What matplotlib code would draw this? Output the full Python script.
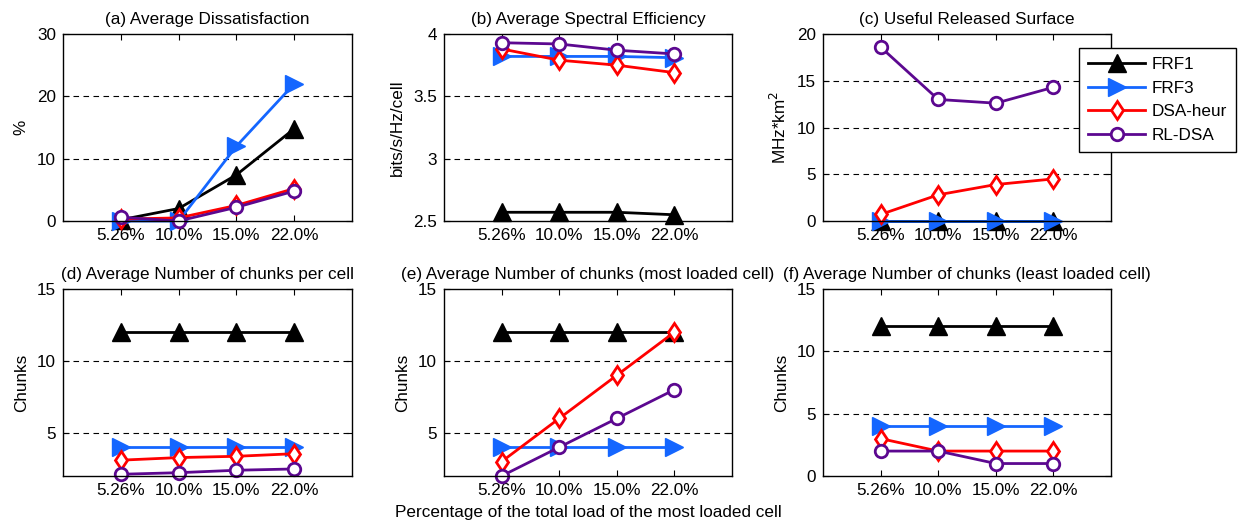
import matplotlib
matplotlib.use("Agg")
from matplotlib import pyplot as plt

plt.rcParams['font.family'] = ['Liberation Sans', 'DejaVu Sans']
plt.rcParams['font.size'] = 12.3

loads = ['5.26%', '10.0%', '15.0%', '22.0%']
xpos = [1, 2, 3, 4]

series_names = ['FRF1', 'FRF3', 'DSA-heur', 'RL-DSA']

# (a) Average Dissatisfaction
dis_frf1 = [0.2, 2.0, 7.4, 14.8]
dis_frf3 = [0.0, 0.0, 12.0, 22.0]
dis_heur = [0.3, 0.5, 2.5, 5.2]
dis_rl = [0.6, 0.0, 2.2, 4.8]

# (b) Average Spectral Efficiency
se_frf1 = [2.57, 2.57, 2.57, 2.55]
se_frf3 = [3.82, 3.82, 3.82, 3.81]
se_heur = [3.88, 3.79, 3.75, 3.69]
se_rl = [3.93, 3.92, 3.87, 3.84]

# (c) Useful Released Surface
urs_frf1 = [0, 0, 0, 0]
urs_frf3 = [0, 0, 0, 0]
urs_heur = [0.7, 2.8, 3.9, 4.5]
urs_rl = [18.6, 13.0, 12.6, 14.3]

# (d) chunks per cell
ch_frf1 = [12, 12, 12, 12]
ch_frf3 = [4, 4, 4, 4]
ch_heur = [3.1, 3.28, 3.37, 3.55]
ch_rl = [2.12, 2.23, 2.4, 2.49]

# (e) most loaded cell
most_frf1 = [12, 12, 12, 12]
most_frf3 = [4, 4, 4, 4]
most_heur = [3, 6, 9, 12]
most_rl = [2, 4, 6, 8]

# (f) least loaded cell
least_frf1 = [12, 12, 12, 12]
least_frf3 = [4, 4, 4, 4]
least_heur = [3, 2, 2, 2]
least_rl = [2, 2, 1, 1]

styles = [
    dict(color='black', marker='^', markersize=13, markerfacecolor='black', markeredgecolor='black'),
    dict(color='#1466ff', marker='>', markersize=13, markerfacecolor='#1466ff', markeredgecolor='#1466ff'),
    dict(color='red', marker='d', markersize=9.5, markerfacecolor='white', markeredgecolor='red', markeredgewidth=2),
    dict(color='#5c0890', marker='o', markersize=9, markerfacecolor='white', markeredgecolor='#5c0890', markeredgewidth=2),
]

panels = [
    ('(a) Average Dissatisfaction', '%', [dis_frf1, dis_frf3, dis_heur, dis_rl], (0, 30), [0, 10, 20, 30], ['0', '10', '20', '30']),
    ('(b) Average Spectral Efficiency', 'bits/s/Hz/cell', [se_frf1, se_frf3, se_heur, se_rl], (2.5, 4), [2.5, 3, 3.5, 4], ['2.5', '3', '3.5', '4']),
    ('(c) Useful Released Surface', 'MHz*km$^2$', [urs_frf1, urs_frf3, urs_heur, urs_rl], (0, 20), [0, 5, 10, 15, 20], ['0', '5', '10', '15', '20']),
    ('(d) Average Number of chunks per cell', 'Chunks', [ch_frf1, ch_frf3, ch_heur, ch_rl], (2, 15), [5, 10, 15], ['5', '10', '15']),
    ('(e) Average Number of chunks (most loaded cell)', 'Chunks', [most_frf1, most_frf3, most_heur, most_rl], (2, 15), [5, 10, 15], ['5', '10', '15']),
    ('(f) Average Number of chunks (least loaded cell)', 'Chunks', [least_frf1, least_frf3, least_heur, least_rl], (0, 15), [0, 5, 10, 15], ['0', '5', '10', '15']),
]

W, H = 1239, 524
boxes = [
    (63, 34, 352, 221), (444, 34, 732, 221), (823, 34, 1111, 221),
    (63, 289, 352, 476), (444, 289, 732, 476), (823, 289, 1111, 476),
]

fig = plt.figure(figsize=(W / 100, H / 100), dpi=100)

lines = None
for (title, ylab, data, ylim, yt, ytl), (x0, y0, x1, y1) in zip(panels, boxes):
    ax = fig.add_axes([x0 / W, 1 - y1 / H, (x1 - x0) / W, (y1 - y0) / H])
    hs = []
    for vals, st in zip(data, styles):
        h, = ax.plot(xpos, vals, linewidth=2, clip_on=False, **st)
        hs.append(h)
    if lines is None:
        lines = hs
    ax.set_xlim(0, 5)
    ax.set_ylim(*ylim)
    ax.set_xticks(xpos)
    ax.set_xticklabels(loads)
    ax.set_yticks(yt)
    ax.set_yticklabels(ytl)
    for y in yt:
        if ylim[0] < y < ylim[1]:
            ax.axhline(y, color='black', linestyle=(0, (5, 4)), linewidth=0.8, zorder=0)
    ax.tick_params(direction='in', top=True, right=True, length=4, width=0.8, pad=5)
    for s in ax.spines.values():
        s.set_linewidth(1.0)
    ax.set_title(title, fontsize=12.3, pad=7)
    ax.set_ylabel(ylab, labelpad=6)

fig.axes[4].set_xlabel('Percentage of the total load of the most loaded cell', labelpad=5)

leg = fig.legend(lines, series_names, loc='upper left',
                 bbox_to_anchor=(1079 / W, 1 - 48 / H), borderaxespad=0,
                 fancybox=False, edgecolor='black', framealpha=1,
                 handlelength=3.3, handletextpad=0.4, borderpad=0.55,
                 labelspacing=0.5, fontsize=12.3)
leg.get_frame().set_linewidth(1.0)

fig.savefig('out.png', dpi=100)
